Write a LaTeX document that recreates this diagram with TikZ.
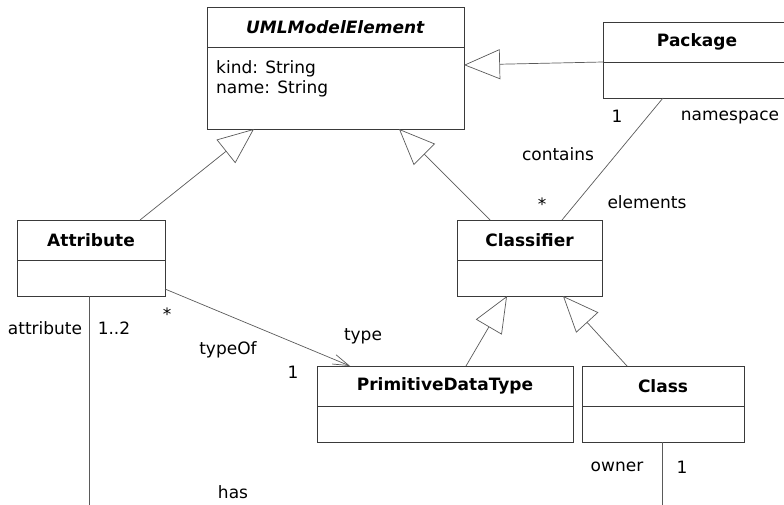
\documentclass[tikz,border=0pt]{standalone}
\usepackage{fontspec}
\setmainfont{DejaVu Sans}
\usetikzlibrary{positioning, arrows.meta}

\definecolor{boxgray}{HTML}{3A3A3A}
\definecolor{linegray}{HTML}{5A5A5A}

\tikzset{
  classname/.style={draw=boxgray, line width=0.9pt, outer sep=0pt, inner sep=0pt, minimum height=40pt, font=\fontsize{17}{20}\selectfont\bfseries},
  classbody/.style={draw=boxgray, line width=0.9pt, outer sep=0pt, inner sep=0pt, minimum height=36pt},
  inherit/.style={draw=linegray, line width=0.7pt, -{Triangle[open, length=36pt, width=30pt]}},
  assoc/.style={draw=linegray, line width=0.7pt},
  role/.style={inner sep=0pt}
}

\begin{document}
\begin{tikzpicture}[x=1pt, y=-1pt, font=\fontsize{17}{20}\selectfont]
\clip (0,0) rectangle (784,505);

\node[classname, minimum width=257pt] (uml) at (335.5,27) {\textit{UMLModelElement}};
\node[classbody, minimum width=257pt, minimum height=82pt, below=0pt of uml] (umlbody) {};
\node[role, anchor=north west, align=left] (umlattrs) at ([xshift=9pt, yshift=-13pt]umlbody.north west) {kind: String\\name: String};

\node[classname, minimum width=188pt] (pkg) at (697,42) {Package};
\node[classbody, minimum width=188pt, below=0pt of pkg] (pkgbody) {};

\node[classname, minimum width=148pt] (attr) at (91,240) {Attribute};
\node[classbody, minimum width=148pt, below=0pt of attr] (attrbody) {};

\node[classname, minimum width=145pt] (clsf) at (529.5,240) {Classifier};
\node[classbody, minimum width=145pt, below=0pt of clsf] (clsfbody) {};

\node[classname, minimum width=256pt] (pdt) at (445,386) {PrimitiveDataType};
\node[classbody, minimum width=256pt, below=0pt of pdt] (pdtbody) {};

\node[classname, minimum width=162pt] (cls) at (663,386) {Class};
\node[classbody, minimum width=162pt, below=0pt of cls] (clsbody) {};

\draw[inherit] (pkgbody.north west) -- ([yshift=-18pt]umlbody.north east);
\draw[inherit] ([xshift=49pt]attr.north) -- ([xshift=-81.5pt]umlbody.south);
\draw[inherit] ([xshift=-39.5pt]clsf.north) -- ([xshift=63.5pt]umlbody.south);
\draw[inherit] ([xshift=21pt]pdt.north) -- ([xshift=-22.5pt]clsfbody.south);
\draw[inherit] ([xshift=-36pt]cls.north) -- ([xshift=33.5pt]clsfbody.south);

\draw[assoc] ([xshift=60pt]pkgbody.south west) -- ([xshift=-40pt]clsf.north east);
\draw[assoc, -{Straight Barb[length=16pt, width=10pt]}] ([yshift=7pt]attrbody.south east) -- ([xshift=33pt]pdt.north west);
\coordinate (attrend) at (89,515);
\draw[assoc] ([xshift=-2pt]attrbody.south) -- (attrend);
\coordinate (ownerend) at (662,515);
\draw[assoc] ([xshift=-1pt]clsbody.south) -- (ownerend);

\node[role] (nsmult) at (617,116) {1};
\node[role] (nsrole) at (730,118) {namespace};
\node[role] (contains) at (558,154) {contains};
\node[role] (elmult) at (542,204) {*};
\node[role] (elrole) at (647,202) {elements};

\node[role] (typeofmult) at (167,314) {*};
\node[role] (typeof) at (228,350) {typeOf};
\node[role] (typerole) at (363,336) {type};
\node[role] (typemult) at (293,372) {1};

\node[role] (attrrole) at (45,328) {attribute};
\node[role] (attrmult) at (114,328) {1..2};
\node[role] (has) at (233,492) {has};
\node[role] (ownerrole) at (617,467) {owner};
\node[role] (ownermult) at (682,467) {1};
\end{tikzpicture}
\end{document}
